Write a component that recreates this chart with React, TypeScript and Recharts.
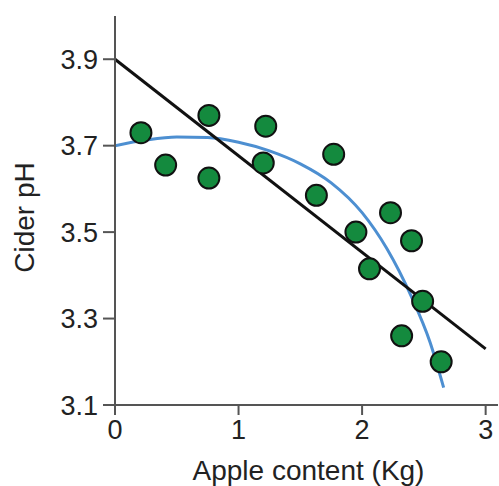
import React from 'react';
import { ComposedChart, Scatter, Line, XAxis, YAxis } from 'recharts';

const appleContent = [0.21, 0.41, 0.76, 0.76, 1.22, 1.2, 1.77, 1.63, 2.23, 1.95, 2.4, 2.06, 2.49, 2.32, 2.64];
const ciderPH = [3.73, 3.655, 3.77, 3.625, 3.745, 3.66, 3.68, 3.585, 3.545, 3.5, 3.48, 3.415, 3.34, 3.26, 3.2];

const linearX = [0, 3];
const linearY = [3.9, 3.23];

const curveX = [0, 0.25, 0.5, 0.75, 1.0, 1.25, 1.5, 1.75, 2.0, 2.2, 2.4, 2.55, 2.66];
const curveY = [3.7, 3.713, 3.72, 3.719, 3.708, 3.688, 3.658, 3.614, 3.545, 3.462, 3.35, 3.245, 3.14];

const xTicks = [0, 1, 2, 3];
const yTicks = [3.1, 3.3, 3.5, 3.7, 3.9];

const points = appleContent.map((x, i) => ({ x, y: ciderPH[i] }));
const linear = linearX.map((x, i) => ({ x, y: linearY[i] }));
const curve = curveX.map((x, i) => ({ x, y: curveY[i] }));

const FONT = 'Liberation Sans, Arial, Helvetica, sans-serif';

const YTitle = (props: any) => {
  const vb = props.viewBox || {};
  const cx = vb.x + 34;
  const cy = vb.y + vb.height / 2 + 7;
  return (
    <text x={cx} y={cy} transform={`rotate(-90 ${cx} ${cy})`} textAnchor="middle" fontFamily={FONT} fontSize={28} fill="#222">
      Cider pH
    </text>
  );
};

const XTitle = (props: any) => {
  const vb = props.viewBox || {};
  return (
    <text x={vb.x + vb.width / 2 + 2} y={vb.y + 75} textAnchor="middle" fontFamily={FONT} fontSize={28} fill="#222">
      Apple content (Kg)
    </text>
  );
};

export default function App() {
  return (
    <div style={{ position: 'absolute', left: 0, top: 0, width: 499, height: 486, background: '#fff' }}>
      <ComposedChart width={499} height={486} margin={{ top: 16, right: 1, bottom: 0, left: 0 }}>
        <XAxis
          type="number"
          dataKey="x"
          domain={[0, 3.1]}
          ticks={xTicks}
          allowDataOverflow
          height={81}
          tickSize={10}
          tickMargin={5}
          axisLine={{ stroke: '#555', strokeWidth: 2 }}
          tickLine={{ stroke: '#555', strokeWidth: 2 }}
          tick={{ fill: '#222', fontSize: 27, fontFamily: FONT }}
          label={<XTitle />}
        />
        <YAxis
          type="number"
          dataKey="y"
          domain={[3.1, 4.0]}
          ticks={yTicks}
          allowDataOverflow
          width={115}
          tickSize={12}
          tickMargin={5}
          tickFormatter={(v: number) => v.toFixed(1)}
          axisLine={{ stroke: '#555', strokeWidth: 2 }}
          tickLine={{ stroke: '#555', strokeWidth: 2 }}
          tick={{ fill: '#222', fontSize: 27, fontFamily: FONT }}
          label={<YTitle />}
        />
        <Line data={curve} dataKey="y" type="monotone" stroke="#4d8fd1" strokeWidth={3} dot={false} isAnimationActive={false} />
        <Line data={linear} dataKey="y" type="linear" stroke="#111" strokeWidth={3} dot={false} isAnimationActive={false} />
        <Scatter
          data={points}
          dataKey="y"
          isAnimationActive={false}
          shape={(p: any) => <circle cx={p.cx} cy={p.cy} r={10.5} fill="#148a3e" stroke="#111" strokeWidth={2} />}
        />
      </ComposedChart>
    </div>
  );
}
